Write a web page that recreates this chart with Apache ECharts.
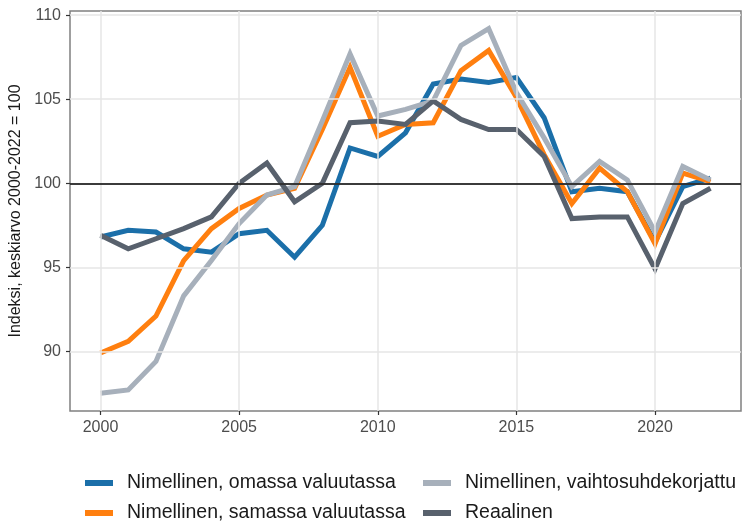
<!DOCTYPE html>
<html>
<head>
<meta charset="utf-8">
<script src="https://cdn.jsdelivr.net/npm/echarts@6/dist/echarts.min.js"></script>
<style>
html, body { margin: 0; padding: 0; background: #fff; }
#chart { width: 742px; height: 526px; }
</style>
</head>
<body>
<div id="chart"></div>
<script>
var years = [2000, 2001, 2002, 2003, 2004, 2005, 2006, 2007, 2008, 2009, 2010,
             2011, 2012, 2013, 2014, 2015, 2016, 2017, 2018, 2019, 2020, 2021, 2022];

var omassa = [96.8, 97.2, 97.1, 96.1, 95.9, 97.0, 97.2, 95.6, 97.5, 102.1, 101.6,
              103.0, 105.9, 106.2, 106.0, 106.3, 103.9, 99.5, 99.7, 99.5, 96.5, 99.8, 100.3];
var samassa = [89.9, 90.6, 92.1, 95.4, 97.3, 98.5, 99.3, 99.7, 103.2, 106.9, 102.8,
               103.5, 103.6, 106.7, 107.9, 105.1, 101.7, 98.8, 100.9, 99.5, 96.4, 100.6, 100.1];
var vaihto = [87.5, 87.7, 89.4, 93.3, 95.4, 97.6, 99.3, 99.8, 103.7, 107.7, 104.0,
              104.4, 104.9, 108.2, 109.2, 105.4, 102.7, 99.8, 101.3, 100.2, 97.1, 101.0, 100.2];
var reaali = [96.9, 96.1, 96.7, 97.3, 98.0, 100.0, 101.2, 98.9, 100.0, 103.6, 103.7,
              103.5, 104.9, 103.8, 103.2, 103.2, 101.6, 97.9, 98.0, 98.0, 94.9, 98.8, 99.7];

var names = ['Nimellinen, omassa valuutassa', 'Nimellinen, samassa valuutassa',
             'Nimellinen, vaihtosuhdekorjattu', 'Reaalinen'];
var colors = ['#1b6fa9', '#ff7f0f', '#a7b0bb', '#58616d'];

var xTicks = [2000, 2005, 2010, 2015, 2020];
var yTicks = [90, 95, 100, 105, 110];

function pairs(vals) {
    return years.map(function (y, i) { return [y, vals[i]]; });
}

function lineSeries(name, vals, color) {
    return {
        name: name,
        type: 'line',
        data: pairs(vals),
        showSymbol: false,
        color: color,
        lineStyle: { width: 5, color: color, cap: 'butt', join: 'miter' },
        emphasis: { disabled: true },
        z: 3
    };
}

function legendBlock(left, items) {
    return {
        left: left, top: 473,
        height: 60,
        padding: 0,
        orient: 'vertical',
        itemGap: 10,
        itemWidth: 28, itemHeight: 6,
        icon: 'rect',
        data: items,
        textStyle: { fontFamily: 'Liberation Sans', fontSize: 19.5, lineHeight: 20, color: '#1a1a1a', padding: [0, 0, 0, 9] },
        selectedMode: false
    };
}

var gridLines = xTicks.map(function (v) { return { xAxis: v }; })
    .concat(yTicks.map(function (v) { return { yAxis: v }; }));

var myChart = echarts.init(document.getElementById('chart'));
var option = {
    animation: false,
    grid: {
        left: 70, right: 1, top: 11, bottom: 115,
        outerBoundsMode: 'none',
        containLabel: false,
        show: true,
        borderColor: '#808080',
        borderWidth: 1.5,
        backgroundColor: 'transparent'
    },
    legend: [
        legendBlock(85, [names[0], names[1]]),
        legendBlock(423, [names[2], names[3]])
    ],
    xAxis: {
        type: 'value',
        min: 1998.9,
        max: 2023.1,
        axisLine: { show: false },
        axisTick: { show: true, length: 4, customValues: xTicks, lineStyle: { color: '#333', width: 1.2 } },
        axisLabel: {
            customValues: xTicks, margin: 9,
            formatter: function (v) { return String(v); },
            fontFamily: 'Liberation Sans', fontSize: 16, color: '#4d4d4d'
        },
        splitLine: { show: false }
    },
    yAxis: {
        type: 'value',
        min: 86.45,
        max: 110.25,
        name: 'Indeksi, keskiarvo 2000-2022 = 100',
        nameLocation: 'middle',
        nameGap: 40,
        nameTextStyle: { fontFamily: 'Liberation Sans', fontSize: 16, color: '#1a1a1a' },
        axisLine: { show: false },
        axisTick: { show: true, length: 4, customValues: yTicks, lineStyle: { color: '#333', width: 1.2 } },
        axisLabel: {
            customValues: yTicks, margin: 9,
            formatter: function (v) { return String(v); },
            fontFamily: 'Liberation Sans', fontSize: 16, color: '#4d4d4d'
        },
        splitLine: { show: false }
    },
    series: [
        {
            type: 'line',
            data: [],
            silent: true,
            z: 1,
            markLine: {
                silent: true,
                symbol: 'none',
                label: { show: false },
                lineStyle: { color: '#e6e6e6', width: 1.5, type: 'solid' },
                data: gridLines
            }
        },
        lineSeries(names[0], omassa, colors[0]),
        lineSeries(names[1], samassa, colors[1]),
        lineSeries(names[2], vaihto, colors[2]),
        lineSeries(names[3], reaali, colors[3]),
        {
            type: 'line',
            data: [],
            silent: true,
            z: 10,
            markLine: {
                silent: true,
                symbol: 'none',
                label: { show: false },
                lineStyle: { color: '#000', width: 1.5, type: 'solid' },
                data: [{ yAxis: 100 }]
            }
        }
    ]
};
myChart.setOption(option);
</script>
</body>
</html>
